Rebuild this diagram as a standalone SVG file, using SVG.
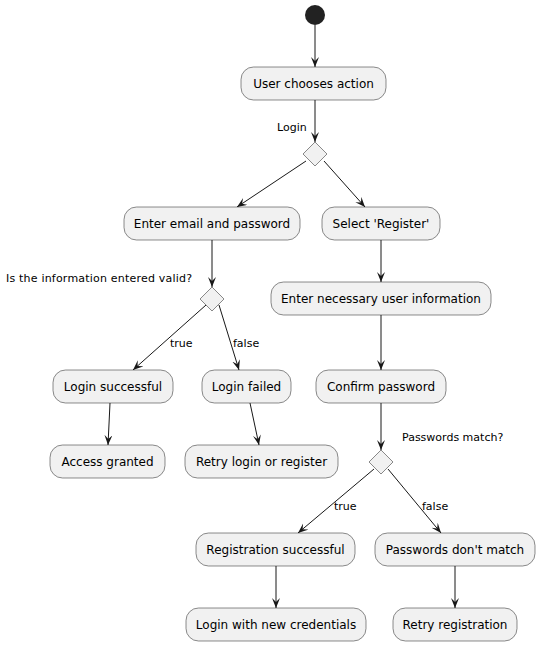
<svg xmlns="http://www.w3.org/2000/svg" width="539" height="646" viewBox="0 0 539 646">
<defs>
<style>
.box{fill:#F1F1F1;stroke:#181818;stroke-width:0.5}
.dia{fill:#F1F1F1;stroke:#181818;stroke-width:0.5}
.t{font-family:"DejaVu Sans",sans-serif;font-size:12px;fill:#000;text-anchor:middle}
.l{font-family:"DejaVu Sans",sans-serif;font-size:11px;fill:#000}
.c{fill:none;stroke:#181818;stroke-width:1;marker-end:url(#ah)}
</style>
<marker id="ah" markerUnits="userSpaceOnUse" markerWidth="12" markerHeight="10" refX="10" refY="4" orient="auto" viewBox="0 0 12 10">
<path d="M0,0 L10,4 L0,8 L4,4 Z" fill="#181818"/>
</marker>
</defs>
<rect width="539" height="646" fill="#FFFFFF"/>
<g id="connectors">
<line class="c" x1="315" y1="25" x2="315" y2="67"/>
<line class="c" x1="315" y1="100" x2="315" y2="142"/>
<line class="c" x1="306" y1="161" x2="237" y2="207"/>
<line class="c" x1="324" y1="161" x2="365" y2="207"/>
<line class="c" x1="212" y1="240" x2="212" y2="287"/>
<line class="c" x1="381" y1="240" x2="381" y2="282"/>
<line class="c" x1="206" y1="305" x2="133" y2="370"/>
<line class="c" x1="219" y1="305" x2="239" y2="370"/>
<line class="c" x1="110" y1="403" x2="108" y2="445"/>
<line class="c" x1="250" y1="403" x2="259" y2="445"/>
<line class="c" x1="381" y1="315" x2="381" y2="370"/>
<line class="c" x1="381" y1="403" x2="381" y2="450"/>
<line class="c" x1="374" y1="469" x2="298" y2="533"/>
<line class="c" x1="388" y1="469" x2="441" y2="533"/>
<line class="c" x1="276" y1="566" x2="276" y2="608"/>
<line class="c" x1="455" y1="566" x2="455" y2="608"/>
<text class="l" x="277" y="131">Login</text>
<text class="l" x="6" y="282" textLength="186" lengthAdjust="spacing">Is the information entered valid?</text>
<text class="l" x="170" y="347">true</text>
<text class="l" x="233" y="347">false</text>
<text class="l" x="402" y="441">Passwords match?</text>
<text class="l" x="334" y="510">true</text>
<text class="l" x="422" y="510">false</text>
</g>
<g id="start"><circle cx="315" cy="15" r="10" fill="#222222"/></g>
<g id="n1"><rect class="box" x="241" y="67" width="145" height="33" rx="12.5"/><text class="t" x="313.5" y="88">User chooses action</text></g>
<g id="d1"><polygon class="dia" points="315,142 327,154 315,166 303,154"/></g>
<g id="n2"><rect class="box" x="124" y="207" width="176" height="33" rx="12.5"/><text class="t" x="212" y="228">Enter email and password</text></g>
<g id="n3"><rect class="box" x="322" y="207" width="118" height="33" rx="12.5"/><text class="t" x="381" y="228">Select 'Register'</text></g>
<g id="d2"><polygon class="dia" points="212,287 224,299 212,311 200,299"/></g>
<g id="n4"><rect class="box" x="271" y="282" width="220" height="33" rx="12.5"/><text class="t" x="381" y="303">Enter necessary user information</text></g>
<g id="n5"><rect class="box" x="53" y="370" width="120" height="33" rx="12.5"/><text class="t" x="113" y="391">Login successful</text></g>
<g id="n6"><rect class="box" x="202" y="370" width="89" height="33" rx="12.5"/><text class="t" x="246.5" y="391">Login failed</text></g>
<g id="n7"><rect class="box" x="316" y="370" width="130" height="33" rx="12.5"/><text class="t" x="381" y="391">Confirm password</text></g>
<g id="n8"><rect class="box" x="50" y="445" width="115" height="33" rx="12.5"/><text class="t" x="107.5" y="466">Access granted</text></g>
<g id="n9"><rect class="box" x="185" y="445" width="153" height="33" rx="12.5"/><text class="t" x="261.5" y="466">Retry login or register</text></g>
<g id="d3"><polygon class="dia" points="381,450 393,462 381,474 369,462"/></g>
<g id="n10"><rect class="box" x="196" y="533" width="159" height="33" rx="12.5"/><text class="t" x="275.5" y="554">Registration successful</text></g>
<g id="n11"><rect class="box" x="375" y="533" width="160" height="33" rx="12.5"/><text class="t" x="455" y="554">Passwords don't match</text></g>
<g id="n12"><rect class="box" x="186" y="608" width="180" height="33" rx="12.5"/><text class="t" x="276" y="629">Login with new credentials</text></g>
<g id="n13"><rect class="box" x="393" y="608" width="124" height="33" rx="12.5"/><text class="t" x="455" y="629">Retry registration</text></g>
</svg>
